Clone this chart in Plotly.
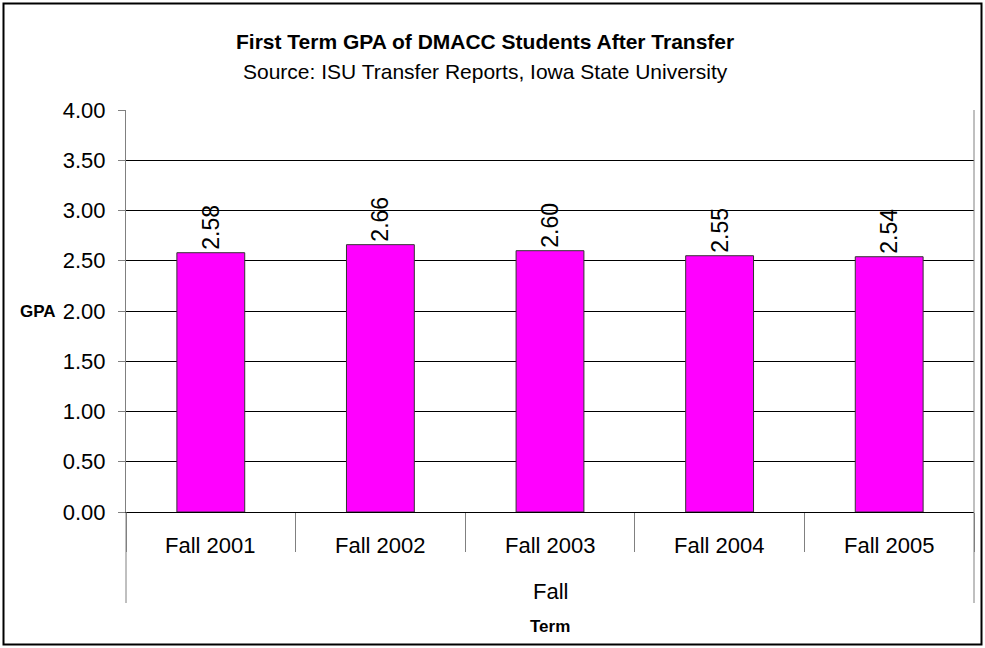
import plotly.graph_objects as go

terms = ["Fall 2001", "Fall 2002", "Fall 2003", "Fall 2004", "Fall 2005"]
group_label = "Fall"
gpa = [2.58, 2.66, 2.60, 2.55, 2.54]
ytick_vals = [0, 0.5, 1, 1.5, 2, 2.5, 3, 3.5, 4]

FONT = "Liberation Sans, Arial, sans-serif"
W, H = 985, 648
L, R, T, B = 126, 11, 110, 136
PW, PH = W - L - R, H - T - B


def px_x(p):
    return (p - L) / PW


def px_y(p):
    return (H - B - p) / PH


fig = go.Figure()
fig.add_trace(go.Bar(
    x=terms, y=gpa,
    marker=dict(color="#FF00FF", line=dict(color="#333333", width=1)),
    width=0.4,
    text=[f"{v:.2f}" for v in gpa],
    textposition="outside", textangle=-90,
    textfont=dict(size=23, color="black", family=FONT),
    cliponaxis=False,
))

fig.update_layout(
    width=W, height=H,
    margin=dict(l=L, r=R, t=T, b=B),
    paper_bgcolor="white", plot_bgcolor="white",
    font=dict(family=FONT, color="black", size=22),
    showlegend=False,
    yaxis=dict(
        range=[0, 4], tickvals=ytick_vals, tickformat=".2f",
        showgrid=True, gridcolor="black", gridwidth=1,
        showline=True, linecolor="#808080", linewidth=1,
        ticks="outside", ticklen=7, tickcolor="#808080",
        ticklabelstandoff=8,
        tickfont=dict(size=22), zeroline=False,
    ),
    xaxis=dict(
        type="category",
        showline=True, linecolor="black", linewidth=1,
        ticks="outside", tickson="boundaries", ticklen=39, tickcolor="#808080",
        showticklabels=False,
    ),
)

# category labels under the axis
for t in terms:
    fig.add_annotation(text=t, xref="x", yref="paper", x=t, y=px_y(545),
                       xanchor="center", yanchor="middle", showarrow=False,
                       font=dict(size=22))

# right border of plot area
fig.add_shape(type="line", xref="paper", yref="paper", x0=1, x1=1, y0=0, y1=1,
              line=dict(color="#808080", width=1))
# long outer dividers of the "Fall" group
for xp in (0, 1):
    fig.add_shape(type="line", xref="paper", yref="paper", x0=xp, x1=xp,
                  y0=px_y(603), y1=0, line=dict(color="#808080", width=1))
# outer chart border
fig.add_shape(type="rect", xref="paper", yref="paper",
              x0=px_x(3.5), x1=px_x(981.5), y0=px_y(644.5), y1=px_y(3.5),
              line=dict(color="black", width=2))

fig.add_annotation(text="<b>First Term GPA of DMACC Students After Transfer</b>",
                   xref="paper", yref="paper", x=px_x(485), y=px_y(41),
                   showarrow=False, xanchor="center", yanchor="middle",
                   font=dict(size=21))
fig.add_annotation(text="Source: ISU Transfer Reports, Iowa State University",
                   xref="paper", yref="paper", x=px_x(485), y=px_y(71),
                   showarrow=False, xanchor="center", yanchor="middle",
                   font=dict(size=21))
fig.add_annotation(text="<b>GPA</b>", xref="paper", yref="y", x=px_x(38), y=2,
                   xanchor="center", yanchor="middle", showarrow=False,
                   font=dict(size=17))
fig.add_annotation(text=group_label, xref="paper", yref="paper", x=0.5, y=px_y(591),
                   xanchor="center", yanchor="middle", showarrow=False,
                   font=dict(size=22))
fig.add_annotation(text="<b>Term</b>", xref="paper", yref="paper", x=0.5, y=px_y(626),
                   xanchor="center", yanchor="middle", showarrow=False,
                   font=dict(size=17))

fig.write_html("out.html", config={"displayModeBar": False},
               post_script="document.body.style.margin='0';"
                           "document.body.style.overflow='hidden';")
